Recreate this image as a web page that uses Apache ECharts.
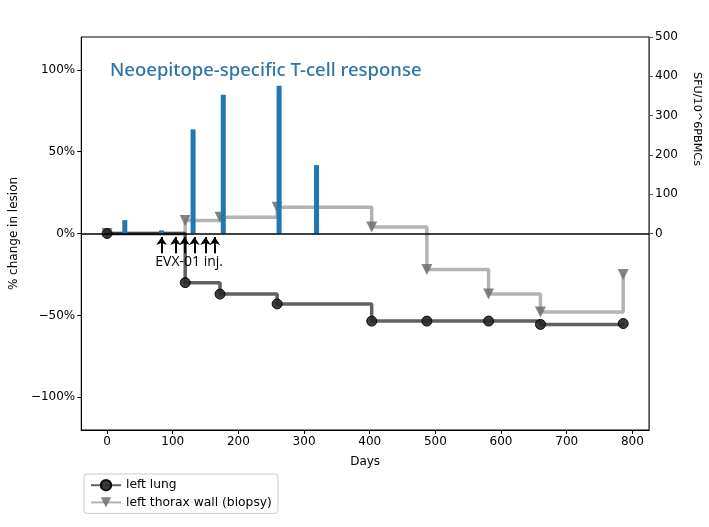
<!DOCTYPE html>
<html>
<head>
<meta charset="utf-8">
<script src="https://cdn.jsdelivr.net/npm/echarts@6/dist/echarts.min.js"></script>
<style>
html, body { margin: 0; padding: 0; background: #fff; }
#chart { width: 709px; height: 527px; }
</style>
</head>
<body>
<div id="chart"></div>
<script>
// scan days and lesion change (%)
var scanDays = [0, 119, 172, 259, 403, 487, 581, 660, 786];
var leftLung = [0, -30, -37, -43, -53.5, -53.5, -53.5, -55.5, -55];
var thoraxWall = [0, 8, 10, 16, 4, -22, -37, -48, -25];

// T-cell response (SFU/10^6 PBMCs)
var bloodDays = [27, 83, 131, 177, 262, 319];
var sfu = [34, 8, 265, 353, 376, 174];

// EVX-01 injections
var injDays = [83, 104, 118, 133, 150, 164];

var xTicks = [0, 100, 200, 300, 400, 500, 600, 700, 800];
var leftTicks = [-100, -50, 0, 50, 100];
var rightTicks = [0, 100, 200, 300, 400, 500];

var font = 'DejaVu Sans';

function pairs(xs, ys) {
    return xs.map(function (x, i) { return [x, ys[i]]; });
}

var arrows = injDays.map(function (d) {
    return [{ coord: [d, -12] }, { coord: [d, -2.2] }];
});

var myChart = echarts.init(document.getElementById('chart'));
var option = {
    animation: false,
    textStyle: { fontFamily: font },
    grid: {
        left: 81, right: 60, top: 37, bottom: 97,
        show: true, borderColor: '#000', borderWidth: 1
    },
    title: {
        text: 'Neoepitope-specific T-cell response',
        left: 105, top: 56,
        textStyle: { color: '#2e75ab', fontSize: 18.5, fontWeight: 500, fontFamily: 'Noto Sans' }
    },
    legend: {
        orient: 'vertical',
        left: 84, top: 474,
        itemWidth: 30, itemHeight: 13, itemGap: 5,
        padding: [5, 6, 5, 6],
        borderColor: '#ccc', borderWidth: 1, borderRadius: 3,
        textStyle: { fontSize: 12.3, color: '#000', fontFamily: font },
        data: ['left lung', 'left thorax wall (biopsy)']
    },
    xAxis: {
        type: 'value',
        min: -39.3, max: 825.3,
        name: 'Days', nameLocation: 'middle', nameGap: 26,
        nameTextStyle: { fontSize: 12, color: '#000' },
        splitLine: { show: false },
        axisLine: { show: true, onZero: false, lineStyle: { color: '#000' } },
        axisTick: { show: true, customValues: xTicks, length: 4, lineStyle: { color: '#000' } },
        axisLabel: { customValues: xTicks, fontSize: 12, color: '#000', margin: 6 }
    },
    yAxis: [{
        type: 'value',
        min: -120, max: 120,
        name: '% change in lesion', nameLocation: 'middle', nameGap: 60,
        nameTextStyle: { fontSize: 12, color: '#000' },
        splitLine: { show: false },
        axisLine: { show: true, onZero: false, lineStyle: { color: '#000' } },
        axisTick: { show: true, customValues: leftTicks, length: 4, lineStyle: { color: '#000' } },
        axisLabel: {
            customValues: leftTicks, fontSize: 12, color: '#000', margin: 6,
            formatter: function (v) { return (v < 0 ? '\u2212' + (-v) : v) + '%'; }
        }
    }, {
        type: 'value',
        min: -500, max: 500,
        position: 'right',
        splitLine: { show: false },
        axisLine: { show: true, onZero: false, lineStyle: { color: '#555' } },
        axisTick: { show: true, customValues: rightTicks, length: 4, lineStyle: { color: '#555' } },
        axisLabel: { customValues: rightTicks, fontSize: 12, color: '#000', margin: 6 }
    }],
    graphic: [{
        type: 'text',
        x: 697, y: 119,
        rotation: -Math.PI / 2,
        style: {
            text: 'SFU/10^6PBMCs', fontSize: 11.2, fontFamily: font, fill: '#000',
            align: 'center', verticalAlign: 'middle'
        }
    }],
    series: [{
        name: 'left thorax wall (biopsy)',
        type: 'line',
        step: 'end',
        data: pairs(scanDays, thoraxWall),
        symbol: 'triangle', symbolRotate: 180, symbolSize: 11,
        lineStyle: { color: 'rgba(128,128,128,0.6)', width: 3.5 },
        itemStyle: { color: 'rgba(110,110,110,0.85)', borderWidth: 0 },
        z: 2
    }, {
        name: 'left lung',
        type: 'line',
        step: 'end',
        data: pairs(scanDays, leftLung),
        symbol: 'circle', symbolSize: 10,
        lineStyle: { color: 'rgba(0,0,0,0.62)', width: 3.5 },
        itemStyle: { color: 'rgba(40,40,40,0.9)', borderColor: 'rgba(0,0,0,0.9)', borderWidth: 1 },
        z: 3,
        markLine: {
            silent: true,
            animation: false,
            symbol: ['none', 'none'],
            label: { show: false },
            lineStyle: { color: '#000', width: 1.5, type: 'solid' },
            data: [{ yAxis: 0 }]
        }
    }, {
        name: 'injections',
        type: 'line',
        data: [],
        z: 5,
        markLine: {
            silent: true,
            animation: false,
            symbol: ['none', 'arrow'],
            symbolSize: [8, 8],
            label: { show: false },
            lineStyle: { color: '#000', width: 2, type: 'solid' },
            data: arrows
        },
        markPoint: {
            silent: true,
            symbol: 'circle', symbolSize: 0,
            label: {
                show: true, formatter: 'EVX-01 inj.', position: 'inside',
                fontSize: 14, color: '#000', fontFamily: 'Open Sans'
            },
            data: [{ coord: [125, -17.5] }]
        }
    }, {
        name: 'SFU',
        type: 'bar',
        yAxisIndex: 1,
        data: pairs(bloodDays, sfu),
        barWidth: 5,
        itemStyle: { color: '#1f77b4' },
        z: 4
    }]
};
myChart.setOption(option);
</script>
</body>
</html>
